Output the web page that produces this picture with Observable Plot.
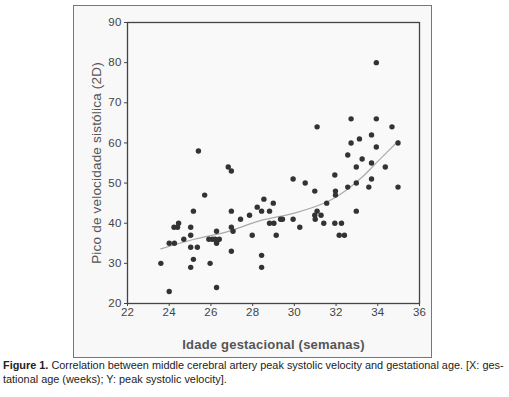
<!DOCTYPE html>
<html><head><meta charset="utf-8">
<script src="https://cdn.jsdelivr.net/npm/d3@7"></script>
<script src="https://cdn.jsdelivr.net/npm/@observablehq/plot@0.6"></script>
<style>
body{margin:0;background:#fff;font-family:"Liberation Sans",Arial,sans-serif;}
#wrap{position:relative;width:509px;height:397px;overflow:hidden;}
#box{position:absolute;left:73px;top:5px;width:359px;height:353px;border:1px solid #777;background:#f8f8f8;box-sizing:border-box;}
#chart{position:absolute;left:0;top:0;}
#cap{position:absolute;left:3px;top:358px;width:506px;font-size:10.9px;line-height:14px;color:#222;}
#chart svg text{letter-spacing:0.2px;}
</style></head><body>
<div id="wrap"><div id="box"></div><div id="chart"></div>
<div id="cap"><b>Figure 1.</b> Correlation between middle cerebral artery peak systolic velocity and gestational age. [X: ges-<br>tational age (weeks); Y: peak systolic velocity].</div></div>
<script>
const gestAge = [23.6,24.0,24.0,24.25,24.23,24.4,24.45,24.7,25.03,25.03,25.03,25.03,25.16,25.16,25.35,25.4,25.7,25.96,25.9,26.07,26.2,26.27,26.27,26.3,26.4,26.27,26.83,26.98,26.98,26.98,27.06,26.98,27.42,27.85,27.98,28.22,28.43,28.54,28.43,28.43,28.81,28.81,29.02,28.99,29.13,29.34,29.43,29.94,29.94,30.26,30.52,30.98,30.98,31.0,31.09,31.09,31.28,31.41,31.55,31.94,31.97,31.97,31.94,32.15,32.26,32.4,32.56,32.56,32.72,32.72,32.97,32.97,32.97,33.12,33.25,33.57,33.7,33.7,33.7,33.93,33.93,33.93,34.36,34.68,34.97,34.97];
const peakVel = [30,23,35,35,39,39,40,36,39,37,34,29,43,31,34,58,47,30,36,36,36,38,35,35.7,36,24,54,53,43,39,38,33,41,42,37,44,43,46,32,29,43,40,40,45,37,41,41,51,41,39,50,48,42,41,64,43,42,40,45,52,48,47,40,37,40,37,49,57,66,60,54,50,43,61,56,49,62,55,51,80,66,59,54,64,60,49];
const fitAge = [23.6,25.2,26.8,28.4,30.0,31.6,32.4,33.2,34.0,35.0];
const fitVel = [33.6,36.0,37.9,40.7,42.5,45.4,47.9,51.25,55.4,60.6];
const xTicks = [22,24,26,28,30,32,34,36];
const yTicks = [20,30,40,50,60,70,80,90];

const pts = gestAge.map((x,i)=>({x, y: peakVel[i]}));
const fit = fitAge.map((x,i)=>({x, y: fitVel[i]}));

const chart = Plot.plot({
  width: 509, height: 360,
  marginLeft: 127, marginRight: 90, marginTop: 22, marginBottom: 57,
  style: {background: "transparent", fontFamily: "Liberation Sans, Arial, sans-serif", fontSize: "11.5px", color: "#444"},
  x: {domain: [22,36]},
  y: {domain: [20,90]},
  marks: [
    Plot.rect([0], {x1: 22, x2: 36, y1: 20, y2: 90, fill: "#f9f9f9"}),
    Plot.axisX({ticks: xTicks, tickSize: 3, tickPadding: 1, fontSize: 11.5, label: null}),
    Plot.axisX({ticks: [], label: "Idade gestacional (semanas)", labelAnchor: "center", labelArrow: "none", labelOffset: 45, fontSize: 13, fontWeight: "bold", fill: "#555", style: "letter-spacing:1.5px"}),
    Plot.axisY({ticks: yTicks, tickSize: 3, tickPadding: 3, fontSize: 11.5, label: null}),
    Plot.axisY({ticks: [], label: "Pico de velocidade sistólica (2D)", labelAnchor: "center", labelArrow: "none", labelOffset: 36, fontSize: 13.5, fill: "#555"}),
    Plot.line(fit, {x: "x", y: "y", stroke: "#aaa", strokeWidth: 1.2, curve: "catmull-rom"}),
    Plot.dot(pts, {x: "x", y: "y", r: 2.7, fill: "#333", stroke: "none"}),
    Plot.frame({stroke: "#444", strokeWidth: 1.3})
  ]
});
document.getElementById("chart").appendChild(chart);
</script></body></html>
